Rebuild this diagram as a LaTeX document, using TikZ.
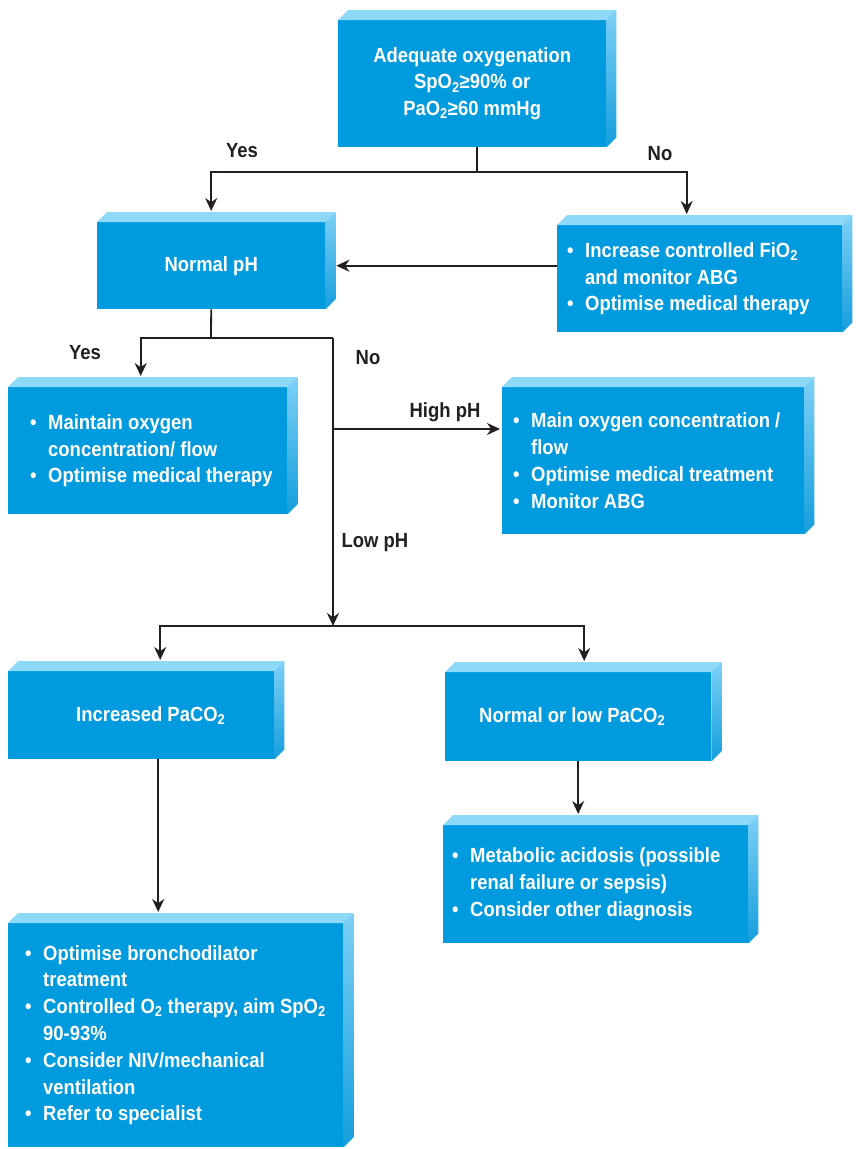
\documentclass[tikz,border=0pt]{standalone}
\usepackage{fontspec}
\setmainfont{Liberation Sans}[FakeStretch=0.9]
\usetikzlibrary{arrows.meta}
\definecolor{boxfront}{RGB}{0,155,222}
\definecolor{boxtop}{RGB}{142,216,248}
\definecolor{boxsideA}{RGB}{125,208,246}
\definecolor{boxsideB}{RGB}{0,180,234}
\definecolor{boxsideC}{RGB}{20,158,220}
\definecolor{ink}{RGB}{35,31,32}
\newcommand{\itm}[1]{\mbox{\makebox[18pt][l]{\textbullet}#1}}
\newcommand{\cnt}[1]{\mbox{\hspace*{18pt}#1}}
\tikzset{
  fbox/.style={fill=boxfront,text=white,anchor=north west,inner ysep=0pt,
    font=\bfseries\fontsize{20.5}{26.8}\selectfont,
    execute at begin node={\spaceskip=\fontdimen2\font\xspaceskip=\fontdimen2\font\relax}},
  lbl/.style={text=ink,text height=15pt,text depth=0pt,inner sep=0pt,
    font=\bfseries\fontsize{20.5}{24}\selectfont},
  conn/.style={ink,line width=1.8pt},
  arr/.style={conn,-{Stealth[length=13pt,width=12pt]},shorten >=11pt}
}

\begin{document}
\begin{tikzpicture}[x=1pt,y=-1pt]
	\path[use as bounding box,fill=white] (0,0) rectangle (855,1149);
	%% boxes
	\node[fbox,minimum width=268pt,minimum height=127pt,inner xsep=0pt,text width=268pt,align=center] (oxy) at (338,20)
		{Adequate oxygenation\\SpO\textsubscript{2}≥90\% or\\PaO\textsubscript{2}≥60 mmHg};
	\node[fbox,minimum width=228pt,minimum height=87pt,inner xsep=0pt,text width=228pt,align=center] (normph) at (97,222)
		{Normal pH};
	\node[fbox,minimum width=285pt,minimum height=107pt,inner xsep=10pt,text width=265pt,align=left] (incfio) at (557,225)
		{\itm{Increase controlled FiO\textsubscript{2}}\\\cnt{and monitor ABG}\\\itm{Optimise medical therapy}};
	\node[fbox,minimum width=279pt,minimum height=127pt,inner xsep=22pt,text width=235pt,align=left] (maintain) at (8,387)
		{\itm{Maintain oxygen}\\\cnt{concentration/ flow}\\\itm{Optimise medical therapy}};
	\node[fbox,minimum width=302pt,minimum height=147pt,inner xsep=11pt,text width=280pt,align=left] (highbox) at (502,387)
		{\itm{Main oxygen concentration /}\\\cnt{flow}\\\itm{Optimise medical treatment}\\\itm{Monitor ABG}};
	\node[fbox,minimum width=266pt,minimum height=88pt,inner xsep=68pt,text width=130pt,align=left] (incco2) at (8,671)
		{\mbox{Increased PaCO\textsubscript{2}}};
	\node[fbox,minimum width=266pt,minimum height=89pt,inner xsep=34pt,text width=198pt,align=left] (lowco2) at (445,672)
		{\mbox{Normal or low PaCO\textsubscript{2}}};
	\node[fbox,minimum width=305pt,minimum height=118pt,inner xsep=9pt,text width=287pt,align=left] (metab) at (443,825)
		{\itm{Metabolic acidosis (possible}\\\cnt{renal failure or sepsis)}\\\itm{Consider other diagnosis}};
	\node[fbox,minimum width=335pt,minimum height=224pt,inner xsep=17pt,text width=301pt,align=left] (bronch) at (8,923)
		{\itm{Optimise bronchodilator}\\\cnt{treatment}\\\itm{Controlled O\textsubscript{2} therapy, aim SpO\textsubscript{2}}\\\cnt{90-93\%}\\
		 \itm{Consider NIV/mechanical}\\\cnt{ventilation}\\\itm{Refer to specialist}};
	%% top and side faces
	\foreach \bx in {oxy,normph,incfio,maintain,highbox,incco2,lowco2,metab,bronch}{
		\fill[boxtop] (\bx.north west) -- ++(10,-10) -- ([shift={(10,-10)}]\bx.north east) -- (\bx.north east) -- cycle;
		\shade[top color=boxsideA,middle color=boxsideB,bottom color=boxsideC]
			(\bx.north east) -- ++(10,-10) -- ([shift={(10,-10)}]\bx.south east) -- (\bx.south east) -- cycle;
	}
	%% labels
	\node[lbl] (yes1) at (242,150) {Yes};
	\node[lbl] (no1) at (660,153) {No};
	\node[lbl] (yes2) at (85,352) {Yes};
	\node[lbl] (no2) at (368,357) {No};
	\node[lbl] (hiph) at (445,410) {High pH};
	\node[lbl] (loph) at (375,540) {Low pH};
	%% connectors
	\coordinate (j1) at (477,172);
	\draw[conn] (j1 |- oxy.south) -- (j1);
	\draw[arr] (j1) -| (normph.north);
	\draw[arr] (j1) -| ([xshift=-13pt]incfio.north);
	\draw[arr] (incfio.west |- normph.east) -- (normph.east);
	\coordinate (j2) at (211,338);
	\coordinate (nob) at (333,338);
	\coordinate (hib) at (333,429);
	\coordinate (lowb) at (333,626);
	\draw[conn] (normph.south) -- (j2);
	\draw[arr] (nob) -| ([xshift=-7pt]maintain.north);
	\draw[conn,-{Stealth[length=13pt,width=12pt]}] (nob) -- (lowb);
	\draw[arr,shorten >=2pt] (hib) -- (hib -| highbox.west);
	\draw[arr] (lowb) -| ([xshift=19pt]incco2.north);
	\draw[arr] (lowb) -| ([xshift=6pt]lowco2.north);
	\coordinate (c1) at ([xshift=17pt]incco2.south);
	\draw[arr] (c1) -- (c1 |- bronch.north);
	\draw[arr] (lowco2.south) -- (lowco2.south |- metab.north);
\end{tikzpicture}
\end{document}
